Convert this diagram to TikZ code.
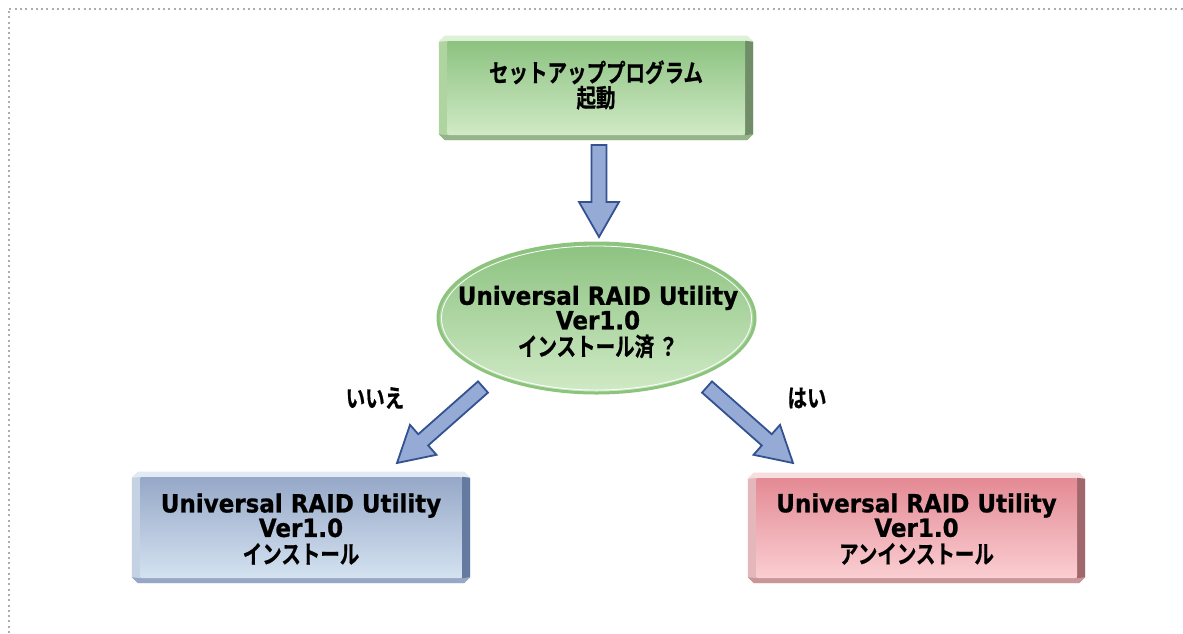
\documentclass[tikz,border=0pt]{standalone}
\usepackage{fontspec}
\setmainfont{DejaVu Sans}[FakeStretch=0.92, BoldFeatures={FakeBold=0.8}]
\newfontfamily\jp{Noto Sans CJK JP}[BoldFont={Noto Sans CJK JP Bold}, FakeStretch=0.78, BoldFeatures={FakeBold=0.6}]
\usetikzlibrary{calc,shapes.geometric,backgrounds}
\definecolor{gTop}{RGB}{140,194,128}
\definecolor{gBot}{RGB}{208,234,198}
\definecolor{gLight}{RGB}{222,240,214}
\definecolor{gLeft}{RGB}{176,212,160}
\definecolor{gBotEdge}{RGB}{150,180,140}
\definecolor{gDark}{RGB}{112,140,104}
\definecolor{bTop}{RGB}{150,168,200}
\definecolor{bBot}{RGB}{212,226,240}
\definecolor{bLight}{RGB}{226,234,244}
\definecolor{bLeft}{RGB}{196,210,228}
\definecolor{bBotEdge}{RGB}{150,168,196}
\definecolor{bDark}{RGB}{100,122,160}
\definecolor{pTop}{RGB}{228,138,148}
\definecolor{pBot}{RGB}{250,206,210}
\definecolor{pLight}{RGB}{246,222,222}
\definecolor{pLeft}{RGB}{228,184,186}
\definecolor{pBotEdge}{RGB}{200,150,152}
\definecolor{pDark}{RGB}{160,104,108}
\definecolor{eBorder}{RGB}{140,196,125}
\definecolor{aFill}{RGB}{149,170,212}
\definecolor{aBorder}{RGB}{50,82,145}
\newcommand\bevelframe[5]{%
  \begin{scope}[on background layer]
  \coordinate (#1-L1) at ($(#1.north west)+(-8,1)$);
  \coordinate (#1-T1) at ($(#1.north west)+(-2,-5)$);
  \coordinate (#1-T2) at ($(#1.north east)+(2,-5)$);
  \coordinate (#1-R1) at ($(#1.north east)+(8,1)$);
  \coordinate (#1-R2) at ($(#1.south east)+(8,-1)$);
  \coordinate (#1-B2) at ($(#1.south east)+(2,5)$);
  \coordinate (#1-B1) at ($(#1.south west)+(-2,5)$);
  \coordinate (#1-L2) at ($(#1.south west)+(-8,-1)$);
  \fill[#3] (#1-L1) -- (#1-T1) -- (#1-T2) -- (#1-R1) -- (#1-R2) -- (#1-B2) -- (#1-B1) -- (#1-L2) -- cycle;
  \fill[#2] (#1-L1) -- (#1-T1) -- (#1-T2) -- (#1-R1) -- (#1.north east) -- (#1.north west) -- cycle;
  \fill[#4] (#1-L2) -- (#1.south west) -- (#1.south east) -- (#1-R2) -- (#1-B2) -- (#1-B1) -- cycle;
  \fill[#5] (#1.north east) -- (#1-R1) -- (#1-R2) -- (#1.south east) -- cycle;
  \end{scope}}
\newcommand\blockarrow[2]{%
  \coordinate (hb) at ($(#2)!35pt!(#1)$);
  \draw[barrow] ($(#1)!7.5pt!90:(#2)$) -- ($(hb)!7.5pt!-90:(#1)$) -- ($(hb)!20pt!-90:(#1)$) -- (#2)
    -- ($(hb)!20pt!90:(#1)$) -- ($(hb)!7.5pt!90:(#1)$) -- ($(#1)!7.5pt!-90:(#2)$) -- cycle;}
\begin{document}
\begin{tikzpicture}[x=1pt,y=-1pt,
  face/.style={rectangle, rounded corners=2pt, inner sep=0pt},
  txt/.style={inner sep=0pt, align=center, font=\bfseries\fontsize{25}{24.5}\selectfont},
  jpl/.style={font=\jp\bfseries\fontsize{25}{25}\selectfont},
  barrow/.style={fill=aFill, draw=aBorder, line width=1.8pt, line join=miter},
  lbl/.style={font=\jp\bfseries\fontsize{25}{25}\selectfont, inner sep=0pt}]
\useasboundingbox (0,0) rectangle (1183,633);
\draw[black!32, line width=2pt, dash pattern=on 2pt off 3.3pt] (8.5,633) -- (8.5,8.5) -- (1183,8.5);
% top box
\node[face, minimum width=298pt, minimum height=94pt, top color=gTop, bottom color=gBot] (start) at (596,88) {};
\bevelframe{start}{gLight}{gLeft}{gBotEdge}{gDark}
\node[txt, font=\jp\bfseries\fontsize{25}{25}\selectfont] (startt) at (596,85) {セットアッププログラム\\起動};
% decision
\node[ellipse, minimum width=317pt, minimum height=150pt, inner sep=0pt, draw=eBorder, line width=3pt,
  top color=gTop, bottom color=gBot] (q) at (596.5,318) {};
\draw[white, line width=0.8pt] (q.center) ellipse [x radius=155pt, y radius=72pt];
\node[txt] (qt) at (598,322)
  {Universal RAID Utility\\Ver1.0\\[2pt]{\jp\fontsize{25}{25}\selectfont インストール済 ？}};
% install
\node[face, minimum width=322pt, minimum height=101pt, top color=bTop, bottom color=bBot] (inst) at (301,527.5) {};
\bevelframe{inst}{bLight}{bLeft}{bBotEdge}{bDark}
\node[txt] (instt) at (301,529)
  {Universal RAID Utility\\Ver1.0\\[2pt]{\jp\fontsize{25}{25}\selectfont インストール}};
% uninstall
\node[face, minimum width=321pt, minimum height=100pt, top color=pTop, bottom color=pBot] (uninst) at (916.5,528) {};
\bevelframe{uninst}{pLight}{pLeft}{pBotEdge}{pDark}
\node[txt] (uninstt) at (916.5,529)
  {Universal RAID Utility\\Ver1.0\\[2pt]{\jp\fontsize{25}{25}\selectfont アンインストール}};
% arrows
\coordinate (a1s) at (599,145); \coordinate (a1e) at (599,237);
\coordinate (a2s) at (483,387); \coordinate (a2e) at (397,463);
\coordinate (a3s) at (707,387); \coordinate (a3e) at (793,463);
\blockarrow{a1s}{a1e}
\blockarrow{a2s}{a2e}
\blockarrow{a3s}{a3e}
\node[lbl] (no) at (375,398) {いいえ};
\node[lbl] (yes) at (807,398) {はい};
\end{tikzpicture}
\end{document}
